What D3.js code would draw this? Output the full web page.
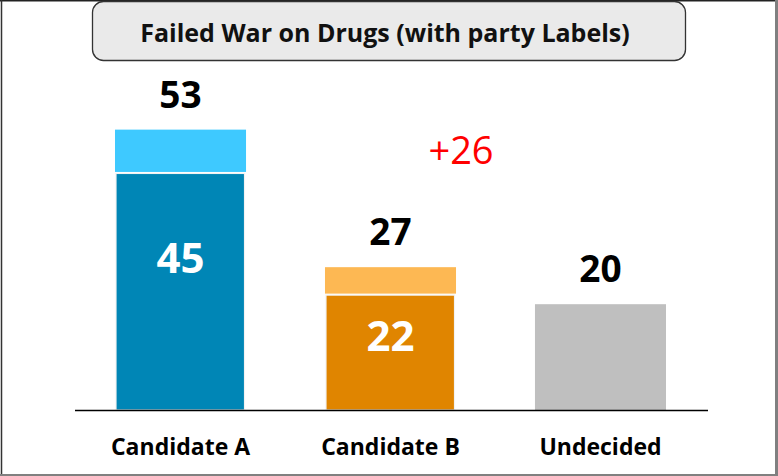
<!DOCTYPE html>
<html>
<head>
<meta charset="utf-8">
<script src="https://cdn.jsdelivr.net/npm/d3@7"></script>
<style>
  html, body { margin: 0; padding: 0; background: #fff; }
  svg { display: block; }
  text { font-family: "Open Sans", Lato, sans-serif; }
</style>
</head>
<body>
<div id="chart"></div>
<script>
// Poll shares: committed support plus leaners per candidate
const categories = ["Candidate A", "Candidate B", "Undecided"];
const committed = [45, 22, 20];
const leaners = [8, 5, 0];
const titleText = "Failed War on Drugs (with party Labels)";

const darkColors = ["#0086b6", "#e08500", "#bfbfbf"];
const lightColors = ["#3ec9ff", "#fdb853", "#bfbfbf"];

const W = 778, H = 476;
const svg = d3.select("#chart").append("svg")
  .attr("width", W).attr("height", H);

// outer frame
svg.append("rect").attr("x", 0).attr("y", 0).attr("width", W).attr("height", H).attr("fill", "#fff");
svg.append("line").attr("x1", 0).attr("x2", W).attr("y1", 0.75).attr("y2", 0.75).attr("stroke", "#222").attr("stroke-width", 1.5);
svg.append("line").attr("x1", 1.5).attr("x2", 1.5).attr("y1", 0).attr("y2", H).attr("stroke", "#333").attr("stroke-width", 1.5);
svg.append("line").attr("x1", 776.5).attr("x2", 776.5).attr("y1", 0).attr("y2", H).attr("stroke", "#808080").attr("stroke-width", 3);
svg.append("line").attr("x1", 0).attr("x2", W).attr("y1", 475).attr("y2", 475).attr("stroke", "#808080").attr("stroke-width", 2);

// title box
svg.append("rect")
  .attr("x", 92.5).attr("y", 1.5).attr("width", 593).attr("height", 59)
  .attr("rx", 11).attr("ry", 11)
  .attr("fill", "#eaeaea").attr("stroke", "#333").attr("stroke-width", 1.3);
svg.append("text")
  .attr("x", 385).attr("y", 42)
  .attr("text-anchor", "middle")
  .attr("font-size", 25).attr("font-weight", 700).attr("fill", "#111")
  .text(titleText);

const x = d3.scaleBand()
  .domain(categories)
  .range([73, 708])
  .paddingInner(0.376)
  .paddingOuter(0.2);

const y = d3.scaleLinear()
  .domain([0, 60])
  .range([410, 410 - 60 * 5.29]);

const rows = categories.map((c, i) => ({
  cat: c, base: committed[i], lean: leaners[i], total: committed[i] + leaners[i], i
}));

// leaner segments (stacked above committed)
svg.append("g").selectAll("rect")
  .data(rows.filter(d => d.lean > 0))
  .join("rect")
  .attr("x", d => x(d.cat))
  .attr("width", x.bandwidth())
  .attr("y", d => y(d.total))
  .attr("height", d => y(d.base) - y(d.total))
  .attr("fill", d => lightColors[d.i]);

// committed segments
svg.append("g").selectAll("rect")
  .data(rows)
  .join("rect")
  .attr("x", d => x(d.cat) + (d.lean > 0 ? 1 : 0))
  .attr("width", d => x.bandwidth() - (d.lean > 0 ? 2.5 : 0))
  .attr("y", d => y(d.base) + (d.lean > 0 ? 1.5 : 0))
  .attr("height", d => y(0) - y(d.base) - (d.lean > 0 ? 1.5 : 0))
  .attr("fill", d => darkColors[d.i])
  .attr("stroke", d => d.lean > 0 ? "#f2f2f2" : "none")
  .attr("stroke-width", 1.2);

// baseline
const xAxis = d3.axisBottom(x).tickSize(0).tickPadding(29);
const gx = svg.append("g").attr("transform", `translate(0,${y(0)})`).call(xAxis);
gx.select(".domain").attr("stroke", "#000").attr("stroke-width", 1.3)
  .attr("d", `M75,0.5H708`);
gx.selectAll(".tick text")
  .attr("font-family", "'Open Sans', Lato, sans-serif")
  .attr("font-size", 23).attr("font-weight", 700).attr("fill", "#000");

// total labels above bars
svg.append("g").selectAll("text")
  .data(rows)
  .join("text")
  .attr("x", d => x(d.cat) + x.bandwidth() / 2)
  .attr("y", d => y(d.total) - 22)
  .attr("text-anchor", "middle")
  .attr("font-size", 37).attr("font-weight", 700).attr("fill", "#000")
  .text(d => d.total);

// committed labels inside bars
svg.append("g").selectAll("text")
  .data(rows.filter(d => d.lean > 0))
  .join("text")
  .attr("x", d => x(d.cat) + x.bandwidth() / 2)
  .attr("y", d => y(d.base) + 0.36 * (y(0) - y(d.base)) + 15)
  .attr("text-anchor", "middle")
  .attr("font-size", 42).attr("font-weight", 700).attr("fill", "#fff")
  .text(d => d.base);

// lead margin
const margin = rows[0].total - rows[1].total;
svg.append("text")
  .attr("x", 461).attr("y", 164)
  .attr("text-anchor", "middle")
  .attr("font-size", 38).attr("fill", "#ff0000")
  .text("+" + margin);
</script>
</body>
</html>
